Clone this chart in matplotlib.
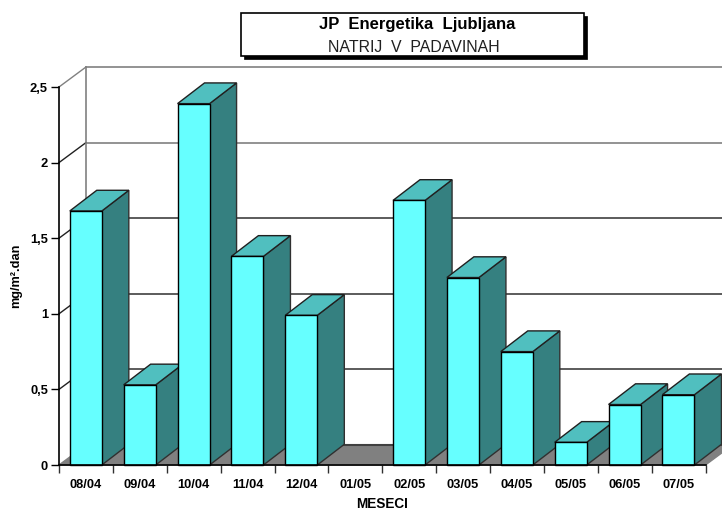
import matplotlib
matplotlib.use('Agg')
import matplotlib.pyplot as plt
from matplotlib.patches import Polygon, Rectangle

months = ['08/04', '09/04', '10/04', '11/04', '12/04', '01/05',
          '02/05', '03/05', '04/05', '05/05', '06/05', '07/05']
values = [1.68, 0.53, 2.39, 1.38, 0.99, 0, 1.75, 1.24, 0.75, 0.15, 0.40, 0.465]
yticks = [0, 0.5, 1, 1.5, 2, 2.5]
ylabels = ['0', '0,5', '1', '1,5', '2', '2,5']

W, H = 722, 511
plt.rcParams['font.family'] = ['Liberation Sans', 'DejaVu Sans']

fig = plt.figure(figsize=(W / 100, H / 100), dpi=100)
# axes box is the front plane of the 3d chart
ax = fig.add_axes([59 / W, 1 - 465 / H, 646.5 / W, 378 / H])
ax.set_xlim(0, 12)
ax.set_ylim(0, 2.5)
ax.patch.set_visible(False)

# depth of the chart, in data units
dx = 27 / 53.9
dy = 20 / 151.2
bar_dy = 20.7 / 151.2
bar_w = 0.595
bar_off = 0.2


def poly(pts, fc, ec='black', lw=1.0, z=3):
    ax.add_patch(Polygon(pts, closed=True, facecolor=fc, edgecolor=ec, linewidth=lw,
                         zorder=z, clip_on=False, joinstyle='miter'))


# floor
poly([(0, 0), (12, 0), (12 + dx, dy), (dx, dy)], '#808080', ec='#808080', z=1)
ax.plot([dx, 12 + dx], [dy, dy], color='#404040', lw=1.5, zorder=1.5, clip_on=False)

# walls and grid
for t in yticks[1:]:
    c = '#808080' if t >= 2 else '#404040'
    ax.plot([dx, 12 + dx], [t + dy, t + dy], color='#808080' if t == 2.5 else c,
            lw=1.2, zorder=1, clip_on=False)
    ax.plot([0, dx], [t, t + dy], color='#808080' if t == 2.5 else '#202020',
            lw=1.0, zorder=1, clip_on=False)
ax.plot([dx, dx], [dy, 2.5 + dy], color='#808080', lw=1.2, zorder=1, clip_on=False)

# bars, left to right
for i, v in enumerate(values):
    if v == 0:
        continue
    x0 = i + bar_off
    x1 = x0 + bar_w
    z = 3 + i * 0.1
    poly([(x1, 0), (x1 + dx, bar_dy), (x1 + dx, v + bar_dy), (x1, v)], '#358080', ec='#303030', z=z)
    poly([(x0, v), (x1, v), (x1 + dx, v + bar_dy), (x0 + dx, v + bar_dy)], '#50BFBF', ec='#202020', z=z)
    poly([(x0, 0), (x1, 0), (x1, v), (x0, v)], '#66FFFF', z=z)

for s in ['top', 'right']:
    ax.spines[s].set_visible(False)
ax.spines['left'].set_linewidth(1.2)
ax.spines['bottom'].set_linewidth(1.2)
ax.spines['left'].set_zorder(6)
ax.spines['bottom'].set_zorder(6)

ax.set_yticks(yticks)
ax.set_yticklabels(ylabels, fontsize=9.3, fontweight='bold')
ax.tick_params(axis='y', length=6, width=1, pad=2)
ax.set_xticks(range(13))
ax.set_xticklabels([])
ax.tick_params(axis='x', which='major', length=6, width=1, color='#303030')
ax.set_xticks([i + 0.5 for i in range(12)], minor=True)
ax.set_xticklabels(months, minor=True, fontsize=9.3, fontweight='bold')
ax.tick_params(axis='x', which='minor', length=0, pad=10)

fig.text(382 / W, 1 - 504 / H, 'MESECI', fontsize=9.8, fontweight='bold', ha='center', va='center')
fig.text(16 / W, 1 - 276 / H, 'mg/m².dan', fontsize=9.2, fontweight='bold', rotation=90,
         ha='center', va='center')

# title box with shadow
fig.add_artist(Rectangle((244 / W, 1 - 59 / H), 343 / W, 43 / H, transform=fig.transFigure,
                         facecolor='black', edgecolor='black', linewidth=0.5))
fig.add_artist(Rectangle((241 / W, 1 - 56 / H), 343 / W, 43 / H, transform=fig.transFigure,
                         facecolor='white', edgecolor='black', linewidth=1.2))
fig.text(417 / W, 1 - 25 / H, 'JP  Energetika  Ljubljana', fontsize=12, fontweight='bold',
         ha='center', va='center', zorder=5)
fig.text(414 / W, 1 - 47 / H, 'NATRIJ  V  PADAVINAH', fontsize=11.4, ha='center', va='center',
         color='#202020', zorder=5)

fig.savefig('out.png', dpi=100)
